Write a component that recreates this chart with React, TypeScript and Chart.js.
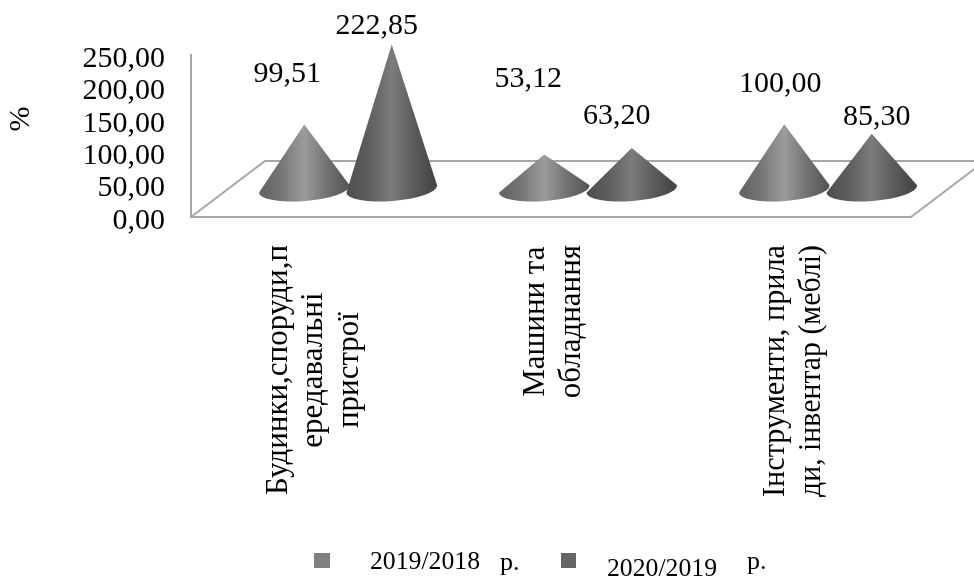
import React, { useEffect, useRef } from "react";
import { Chart, BarController, BarElement, CategoryScale, LinearScale } from "chart.js";

// Axis content and series values
const categories = [
  ["Будинки,споруди,п", "ередавальні", "пристрої"],
  ["Машини та", "обладнання"],
  ["Інструменти, прила", "ди, інвентар (меблі)"],
];
const series2019 = [99.51, 53.12, 100.0];
const series2020 = [222.85, 63.2, 85.3];
const seriesNames = ["2019/2018", "2020/2019"];
const seriesColors = ["#808080", "#666666"];
const yearSuffix = "р.";

// Hand-placed value captions, relative to each cone's tip (one row per series)
const captionOffsets = [
  [[-17, -50], [-16, -75], [-4, -40]],
  [[-15, -18], [-15, -32], [5, -17]],
];

const SERIF = '"Liberation Serif", "Times New Roman", serif';
const DEPTH_X = 37;
const DEPTH_Y = -28;
const LINE_COLOR = "#a6a6a6";

const shade = (hex: string, k: number) => {
  const v = Math.min(255, Math.round(parseInt(hex.slice(1, 3), 16) * k));
  return `rgb(${v},${v},${v})`;
};

// A bar that paints itself as a shaded cone standing on the 3D floor
class ConeElement extends BarElement {
  static id = "cone";
  draw(ctx: CanvasRenderingContext2D) {
    const { x, y, base, width, options } = this as any;
    const cx = x + DEPTH_X;
    const by = base + DEPTH_Y;
    const tip = y + DEPTH_Y;
    const rx = (width / 2) * 1.04;
    const ry = 12;
    const tilt = -0.08;
    const c = options.backgroundColor as string;
    const g = ctx.createLinearGradient(cx - rx, 0, cx + rx, 0);
    g.addColorStop(0, shade(c, 0.76));
    g.addColorStop(0.25, shade(c, 0.92));
    g.addColorStop(0.5, shade(c, 1.22));
    g.addColorStop(0.75, shade(c, 0.88));
    g.addColorStop(1, shade(c, 0.66));
    ctx.save();
    ctx.fillStyle = g;
    ctx.beginPath();
    ctx.moveTo(cx, tip);
    ctx.lineTo(cx + rx * Math.cos(tilt), by + rx * Math.sin(tilt));
    ctx.ellipse(cx, by, rx, ry, tilt, 0, Math.PI);
    ctx.closePath();
    ctx.fill();
    ctx.restore();
  }
}

class ConeController extends BarController {
  static id = "cone";
  static defaults = { dataElementType: "cone" };
}

Chart.register(ConeController, ConeElement, BarElement, CategoryScale, LinearScale);

const conePlugin = {
  id: "coneScene",
  // Floor first, then the series in order so the later cones overlap the earlier ones
  beforeDatasetsDraw(chart: any) {
    const { ctx, chartArea: a } = chart;
    ctx.save();
    ctx.strokeStyle = LINE_COLOR;
    ctx.lineWidth = 2;
    ctx.beginPath();
    ctx.moveTo(a.left, a.bottom);
    ctx.lineTo(a.left + DEPTH_X * 2, a.bottom + DEPTH_Y * 2);
    ctx.lineTo(a.right + DEPTH_X * 2, a.bottom + DEPTH_Y * 2);
    ctx.lineTo(a.right, a.bottom);
    ctx.stroke();
    ctx.restore();
    chart.getSortedVisibleDatasetMetas().forEach((m: any) => m.controller.draw());
    return false;
  },
  afterDraw(chart: any) {
    const { ctx, scales } = chart;
    ctx.save();
    ctx.fillStyle = "#000";
    ctx.textBaseline = "middle";

    // Value captions
    ctx.font = `30px ${SERIF}`;
    ctx.textAlign = "center";
    chart.data.datasets.forEach((ds: any, s: number) => {
      const meta = chart.getDatasetMeta(s);
      ds.data.forEach((v: number, i: number) => {
        const [ox, oy] = captionOffsets[s][i];
        const px = meta.data[i].x + DEPTH_X + ox;
        const py = scales.y.getPixelForValue(v) + DEPTH_Y + oy;
        ctx.fillText(v.toFixed(2).replace(".", ","), px, py);
      });
    });

    // Rotated category captions: a top-anchored block with centred lines
    ctx.font = `31px ${SERIF}`;
    categories.forEach((lines, i) => {
      const x0 = scales.x.getPixelForTick(i);
      const longest = Math.min(252, Math.max(...lines.map((l) => ctx.measureText(l).width)));
      lines.forEach((line, n) => {
        const lx = x0 + 3 + (n - (lines.length - 1) / 2) * 35.5;
        ctx.save();
        ctx.translate(lx, 245 + longest / 2);
        ctx.rotate(-Math.PI / 2);
        ctx.fillText(line, 0, 0, 252);
        ctx.restore();
      });
    });

    // Unit caption of the value axis
    ctx.save();
    ctx.font = `30px ${SERIF}`;
    ctx.translate(21, 119);
    ctx.rotate(-Math.PI / 2);
    ctx.fillText("%", 0, 0);
    ctx.restore();

    // Legend
    ctx.textAlign = "left";
    ctx.font = `26px ${SERIF}`;
    ctx.fillStyle = seriesColors[0];
    ctx.fillRect(314, 553, 16, 15);
    ctx.fillStyle = seriesColors[1];
    ctx.fillRect(561, 553, 15, 15);
    ctx.fillStyle = "#000";
    ctx.fillText(seriesNames[0], 370, 562, 110);
    ctx.fillText(yearSuffix, 500, 563);
    ctx.fillText(seriesNames[1], 607, 569, 110);
    ctx.fillText(yearSuffix, 747, 562);
    ctx.restore();
  },
};

export default function App() {
  const ref = useRef<HTMLCanvasElement>(null);
  useEffect(() => {
    const chart = new Chart(ref.current as HTMLCanvasElement, {
      type: "cone" as any,
      plugins: [conePlugin],
      data: {
        labels: categories as any,
        datasets: [
          { label: seriesNames[0], data: series2019, backgroundColor: seriesColors[0], categoryPercentage: 0.729, barPercentage: 1 },
          { label: seriesNames[1], data: series2020, backgroundColor: seriesColors[1], categoryPercentage: 0.729, barPercentage: 1 },
        ],
      },
      options: {
        responsive: false,
        animation: false,
        layout: { padding: { left: 0, top: 55, right: 63, bottom: 0 } },
        scales: {
          x: {
            grid: { display: false },
            border: { display: true, color: LINE_COLOR, width: 2 },
            ticks: { display: false },
            afterFit: (s: any) => { s.height = 579 - 217; },
          },
          y: {
            min: 0,
            max: 250,
            grid: { display: false },
            border: { display: true, color: LINE_COLOR, width: 2 },
            ticks: {
              stepSize: 50,
              autoSkip: false,
              padding: 18,
              labelOffset: 4,
              color: "#000",
              font: { family: SERIF, size: 30 },
              callback: (v: any) => Number(v).toFixed(2).replace(".", ","),
            },
            afterFit: (s: any) => { s.width = 191; },
          },
        },
      } as any,
    });
    return () => chart.destroy();
  }, []);
  return (
    <div style={{ position: "absolute", left: 0, top: 0, width: 974, height: 579, background: "#fff" }}>
      <canvas ref={ref} width={974} height={579} style={{ display: "block" }} />
    </div>
  );
}
